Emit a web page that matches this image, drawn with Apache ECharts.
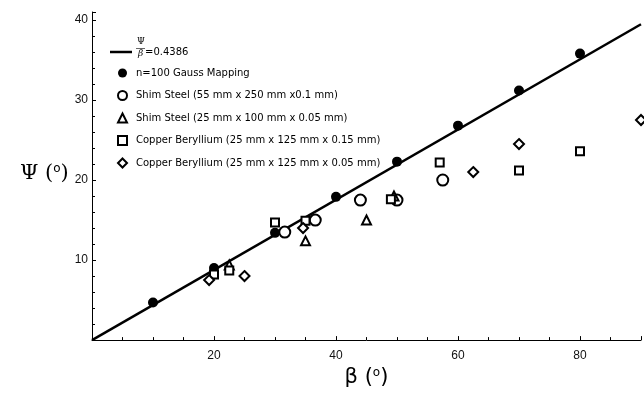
<!DOCTYPE html>
<html><head><meta charset="utf-8">
<script src="https://cdn.jsdelivr.net/npm/echarts@6/dist/echarts.min.js"></script>
<style>html,body{margin:0;padding:0;background:#fff}#c{width:644px;height:393px}</style>
</head><body><div id="c"></div>
<script>
const fitSlope = 0.4386;
const fitName = 'Ψ/β=0.4386';
const gaussName = 'n=100 Gauss Mapping';
const shim1Name = 'Shim Steel (55 mm x 250 mm x0.1 mm)';
const shim2Name = 'Shim Steel (25 mm x 100 mm x 0.05 mm)';
const cube1Name = 'Copper Beryllium (25 mm x 125 mm x 0.15 mm)';
const cube2Name = 'Copper Beryllium (25 mm x 125 mm x 0.05 mm)';
const gauss = [[10,4.7],[20,9.0],[30,13.4],[40,17.9],[50,22.3],[60,26.8],[70,31.2],[80,35.8]];
const shim1 = [[31.6,13.5],[36.6,15.0],[44,17.5],[50,17.5],[57.5,20.0]];
const shim2 = [[22.5,9.4],[35,12.4],[45,15.0],[49.5,18.0]];
const cube1 = [[20,8.2],[22.5,8.7],[30,14.7],[35,14.9],[49,17.6],[57,22.2],[70,21.2],[80,23.6]];
const cube2 = [[19.2,7.5],[25,8.0],[34.6,14.0],[62.5,21.0],[70,24.5],[90,27.5]];
const xTickLabels = [20,40,60,80];
const yTickLabels = [10,20,30,40];
const xRange = [0, 90];
const yRange = [0, 41];

const chart = echarts.init(document.getElementById('c'));
const emptyStyle = {color:'#000', borderColor:'#000', borderWidth:1.2, opacity:1};
function sc(name, data, symbol, size, style){
  return {type:'scatter', name, data, symbol, symbolSize:size, itemStyle:style, z:3};
}
const legendText = {fontFamily:'DejaVu Sans', fontSize:10, color:'#000', lineHeight:11};
chart.setOption({
  animation:false,
  backgroundColor:'#fff',
  grid:{left:92, right:2, top:12, bottom:51},
  legend:[
    {
      orient:'vertical', left:105, top:41.5, itemWidth:22, itemHeight:2.5,
      data:[{name:fitName, icon:'rect'}],
      textStyle:Object.assign({rich:{g:{width:8}}}, legendText),
      formatter:function(){ return '{g|}=0.4386'; }
    },
    {
      orient:'vertical', left:112, top:62.5, itemWidth:9, itemHeight:9, itemGap:11.5,
      data:[gaussName,shim1Name,shim2Name,cube1Name,cube2Name],
      textStyle:Object.assign({padding:[0,0,0,4]}, legendText)
    }
  ],
  graphic:[
    {type:'text', left:137, top:37, style:{text:'Ψ', fontFamily:'DejaVu Serif', fontSize:9, fill:'#000'}},
    {type:'text', left:138, top:49, style:{text:'β', fontFamily:'DejaVu Serif', fontStyle:'italic', fontSize:9, fill:'#000'}},
    {type:'rect', shape:{x:136, y:48, width:9, height:0.6}, style:{fill:'#000'}}
  ],
  xAxis:{
    type:'value', min:xRange[0], max:xRange[1], interval:20,
    splitLine:{show:false},
    axisLine:{lineStyle:{color:'#000', width:1}},
    axisTick:{inside:true, length:4, lineStyle:{color:'#000'}},
    minorTick:{show:true, splitNumber:4, length:3, lineStyle:{color:'#000'}},
    axisLabel:{fontFamily:'Liberation Sans', fontSize:12, color:'#111', margin:10,
      formatter:function(v){ return xTickLabels.indexOf(v)>=0 ? String(v) : ''; }},
    name:'β ({s|o})', nameLocation:'middle', nameGap:22,
    nameTextStyle:{fontFamily:'DejaVu Sans', fontSize:21, color:'#000',
      rich:{s:{fontSize:12, verticalAlign:'top', fontFamily:'DejaVu Sans'}}}
  },
  yAxis:{
    type:'value', min:yRange[0], max:yRange[1], interval:10,
    splitLine:{show:false},
    axisLine:{lineStyle:{color:'#000', width:1}},
    axisTick:{inside:true, length:4, lineStyle:{color:'#000'}},
    minorTick:{show:true, splitNumber:5, length:3, lineStyle:{color:'#000'}},
    axisLabel:{fontFamily:'Liberation Sans', fontSize:12, color:'#111', margin:4,
      formatter:function(v){ return yTickLabels.indexOf(v)>=0 ? String(v) : ''; }},
    name:'Ψ ({s|o})', nameLocation:'middle', nameRotate:0, nameGap:20,
    nameTextStyle:{fontFamily:'DejaVu Serif', fontSize:21, color:'#000', padding:[0,0,6,0],
      rich:{s:{fontSize:12, verticalAlign:'top', fontFamily:'DejaVu Sans'}}}
  },
  series:[
    {type:'line', name:fitName, data:[[xRange[0], fitSlope*xRange[0]],[xRange[1], fitSlope*xRange[1]]],
      symbol:'none', lineStyle:{color:'#000', width:2.5}, itemStyle:{color:'#000'}, z:2},
    sc(gaussName, gauss, 'circle', 10, {color:'#000', opacity:1}),
    sc(shim1Name, shim1, 'emptyCircle', 11, emptyStyle),
    sc(shim2Name, shim2, 'emptyTriangle', 9, emptyStyle),
    sc(cube1Name, cube1, 'emptyRect', 8, emptyStyle),
    sc(cube2Name, cube2, 'emptyDiamond', 10, emptyStyle)
  ]
});
</script></body></html>
